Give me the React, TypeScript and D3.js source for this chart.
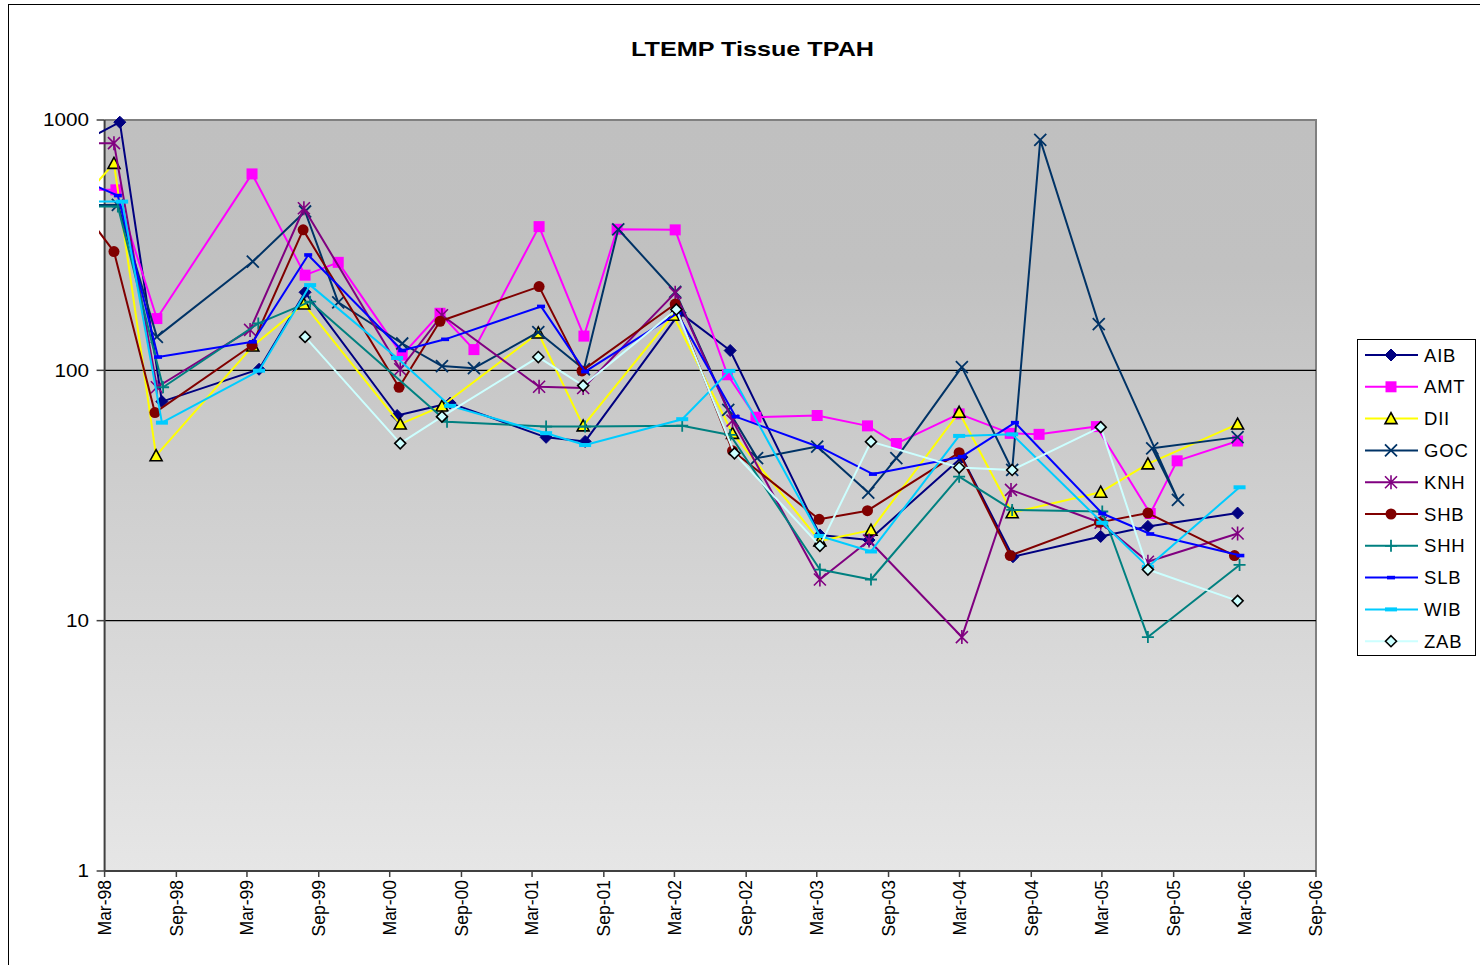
import React from "react";
import * as d3 from "d3";

const titleText = "LTEMP Tissue TPAH";
const seriesNames = ["AIB", "AMT", "DII", "GOC", "KNH", "SHB", "SHH", "SLB", "WIB", "ZAB"];
const seriesColors = ["#000080", "#FF00FF", "#FFFF00", "#003366", "#800080", "#800000", "#008080", "#0000FF", "#00CCFF", "#CCFFFF"];
const seriesMarkers = ["diamond", "square", "triangle", "x", "star", "circle", "plus", "dashSmall", "dashWide", "diamondOpen"];

const yTickValues = [1, 10, 100, 1000];
const yTickLabels = ["1", "10", "100", "1000"];
const xTickDates = [
  "1998-03-01", "1998-09-01", "1999-03-01", "1999-09-01", "2000-03-01", "2000-09-01",
  "2001-03-01", "2001-09-01", "2002-03-01", "2002-09-01", "2003-03-01", "2003-09-01",
  "2004-03-01", "2004-09-01", "2005-03-01", "2005-09-01", "2006-03-01", "2006-09-01",
];
const xTickLabels = [
  "Mar-98", "Sep-98", "Mar-99", "Sep-99", "Mar-00", "Sep-00", "Mar-01", "Sep-01", "Mar-02",
  "Sep-02", "Mar-03", "Sep-03", "Mar-04", "Sep-04", "Mar-05", "Sep-05", "Mar-06", "Sep-06",
];

const aibDates = ["1997-12-15", "1998-04-09", "1998-07-26", "1999-04-01", "1999-07-28", "2000-03-20", "2000-08-03", "2001-04-06", "2001-07-15", "2002-03-15", "2002-07-22", "2003-03-09", "2003-07-13", "2004-03-07", "2004-07-16", "2005-02-26", "2005-06-27", "2006-02-12"];
const aibValues = [790, 980, 75, 101, 205, 66, 74, 54, 52, 170, 120, 22, 21, 45, 18, 21.7, 23.8, 26.9];

const amtDates = ["1997-12-15", "1998-03-30", "1998-07-13", "1999-03-14", "1999-07-28", "1999-10-21", "2000-04-02", "2000-07-08", "2000-10-03", "2001-03-19", "2001-07-12", "2001-10-05", "2002-03-03", "2002-07-15", "2002-09-26", "2003-03-02", "2003-07-09", "2003-09-21", "2004-02-29", "2004-07-09", "2004-09-21", "2005-02-15", "2005-07-03", "2005-09-10", "2006-02-12"];
const amtValues = [526, 526, 161, 609, 240, 270, 115, 169, 121, 375, 137, 366, 364, 96, 65, 66, 60, 51, 67, 56, 55.5, 59.6, 26.8, 43.5, 52.2];

const diiDates = ["1997-12-15", "1998-03-25", "1998-07-11", "1999-03-16", "1999-07-25", "2000-03-28", "2000-07-13", "2001-03-17", "2001-07-10", "2002-02-26", "2002-07-28", "2003-03-09", "2003-07-18", "2004-02-29", "2004-07-14", "2005-02-26", "2005-06-27", "2006-02-12"];
const diiValues = [449, 671, 45.6, 125, 184, 61, 72, 141, 60, 166, 56, 20.8, 23, 68, 27, 32.6, 42.3, 61];

const gocDates = ["1997-12-15", "1998-04-04", "1998-07-13", "1999-03-16", "1999-07-28", "1999-10-21", "2000-04-02", "2000-07-13", "2000-10-03", "2001-03-17", "2001-07-12", "2001-10-08", "2002-03-03", "2002-07-17", "2002-09-29", "2003-03-02", "2003-07-11", "2003-09-21", "2004-03-07", "2004-07-14", "2004-09-24", "2005-02-21", "2005-09-12", "2005-07-08", "2006-02-12"];
const gocValues = [458, 458, 136, 272, 431, 187, 128, 104, 102, 142, 101, 366, 206, 69.5, 44.6, 49.6, 32.5, 44.6, 103, 40, 833, 153, 30.4, 48.8, 54.1];

const knhDates = ["1997-12-15", "1998-03-25", "1998-07-13", "1999-03-09", "1999-07-25", "2000-03-28", "2000-07-13", "2001-03-19", "2001-07-10", "2002-03-03", "2002-07-28", "2003-03-09", "2003-07-13", "2004-03-07", "2004-07-11", "2005-02-26", "2005-06-27", "2006-02-12"];
const knhValues = [808, 808, 85.6, 145, 444, 101, 166, 86, 85, 204, 63, 14.6, 20.9, 8.6, 33.3, 24.6, 17.2, 22.3];

const shbDates = ["1997-12-15", "1998-03-25", "1998-07-08", "1999-03-14", "1999-07-23", "2000-03-25", "2000-07-08", "2001-03-19", "2001-07-07", "2002-03-03", "2002-07-28", "2003-03-07", "2003-07-09", "2004-02-29", "2004-07-09", "2005-02-23", "2005-06-27", "2006-02-04"];
const shbValues = [480, 298, 67.8, 126, 364, 85.6, 157, 216, 99.5, 184, 47.7, 25.4, 27.5, 46.9, 18.2, 24.7, 26.9, 18.2];

const shhDates = ["1997-12-15", "1998-04-04", "1998-07-29", "1999-03-30", "1999-08-10", "2000-07-26", "2001-04-06", "2001-07-15", "2002-03-21", "2002-07-22", "2003-03-09", "2003-07-18", "2004-02-29", "2004-07-14", "2005-03-02", "2005-06-27", "2006-02-17"];
const shhValues = [451, 451, 85.6, 154, 188, 62.3, 59.6, 59.6, 60.1, 55.2, 16, 14.6, 37.6, 27.7, 27.3, 8.6, 16.7];

const slbDates = ["1997-12-15", "1998-04-04", "1998-07-16", "1999-03-16", "1999-08-05", "2000-04-02", "2000-07-21", "2001-03-24", "2001-07-15", "2002-03-08", "2002-08-05", "2003-03-09", "2003-07-23", "2004-03-07", "2004-07-21", "2005-03-02", "2005-07-03", "2006-02-19"];
const slbValues = [593, 499, 113, 130, 289, 120, 133, 180, 98.8, 169, 65.3, 49.3, 38.5, 45.2, 61.8, 26.8, 22.2, 18.2];

const wibDates = ["1997-12-15", "1998-04-15", "1998-07-26", "1999-04-01", "1999-08-10", "2000-03-20", "2000-08-03", "2001-04-06", "2001-07-15", "2002-03-21", "2002-07-20", "2003-03-09", "2003-07-18", "2004-02-29", "2004-07-14", "2005-03-02", "2005-06-27", "2006-02-17"];
const wibValues = [472, 472, 61.8, 99.7, 219, 112, 72.1, 56.1, 50.3, 63.8, 99.5, 21.8, 18.9, 54.7, 55.5, 24.6, 16.4, 34.1];

const zabDates = ["1999-07-28", "2000-03-28", "2000-07-13", "2001-03-17", "2001-07-10", "2002-03-06", "2002-08-02", "2003-03-09", "2003-07-18", "2004-02-29", "2004-07-14", "2005-02-26", "2005-06-27", "2006-02-12"];
const zabValues = [136, 51.1, 65.3, 113, 86.9, 175, 46.6, 19.9, 51.9, 40.9, 40, 59.3, 16, 12];

const allDates = [aibDates, amtDates, diiDates, gocDates, knhDates, shbDates, shhDates, slbDates, wibDates, zabDates];
const allValues = [aibValues, amtValues, diiValues, gocValues, knhValues, shbValues, shhValues, slbValues, wibValues, zabValues];

const parse = d3.timeParse("%Y-%m-%d");
const FONT = "'Liberation Sans', Arial, sans-serif";

function Marker({ type, color, x, y }: { type: string; color: string; x: number; y: number }) {
  const t = `translate(${x},${y})`;
  switch (type) {
    case "diamond":
      return <path transform={t} d="M0,-6L6,0L0,6L-6,0Z" fill={color} stroke={color} strokeWidth={1} />;
    case "diamondOpen":
      return <path transform={t} d="M0,-5.5L5.5,0L0,5.5L-5.5,0Z" fill={color} stroke="#000" strokeWidth={1.6} />;
    case "square":
      return <rect transform={t} x={-5.5} y={-5.5} width={11} height={11} fill={color} />;
    case "triangle":
      return <path transform={t} d="M0,-6L6,5L-6,5Z" fill={color} stroke="#000" strokeWidth={1.6} strokeLinejoin="miter" />;
    case "x":
      return <path transform={t} d="M-6,-6L6,6M-6,6L6,-6" stroke={color} strokeWidth={1.8} fill="none" />;
    case "star":
      return <path transform={t} d="M-6,-6L6,6M-6,6L6,-6M0,-7L0,7" stroke={color} strokeWidth={1.6} fill="none" />;
    case "circle":
      return <circle cx={x} cy={y} r={5.5} fill={color} />;
    case "plus":
      return <path transform={t} d="M-6,0L6,0M0,-6L0,6" stroke={color} strokeWidth={1.8} fill="none" />;
    case "dashSmall":
      return <rect transform={t} x={-4} y={-1.8} width={8} height={3.6} fill={color} />;
    case "dashWide":
      return <rect transform={t} x={-6} y={-2} width={12} height={4} fill={color} />;
    default:
      return null;
  }
}

export default function App() {
  const W = 1480, H = 965;
  const left = 104.6, right = 1316, top = 120, bottom = 871;
  const x = d3.scaleTime().domain([parse("1998-03-01")!, parse("2006-09-01")!]).range([left, right]);
  const y = d3.scaleLog().domain([1, 1000]).range([bottom, top]);
  const xMin = parse("1998-03-01")!;

  const line = d3
    .line<[Date, number]>()
    .x((d) => x(d[0]))
    .y((d) => y(d[1]));

  const series = seriesNames.map((name, i) => ({
    name,
    color: seriesColors[i],
    marker: seriesMarkers[i],
    points: allDates[i].map((d, j) => [parse(d)!, allValues[i][j]] as [Date, number]),
  }));

  const legendX = 1357, legendY = 339, legendW = 118, legendH = 316;

  return (
    <svg width={W} height={H} style={{ position: "absolute", left: 0, top: 0, background: "#fff" }} fontFamily={FONT}>
      <defs>
        <linearGradient id="bg" x1="0" y1="0" x2="0" y2="1">
          <stop offset="0" stopColor="#C0C0C0" />
          <stop offset="0.2" stopColor="#C1C1C1" />
          <stop offset="1" stopColor="#E6E6E6" />
        </linearGradient>
        <clipPath id="plotClip">
          <rect x={99} y={top - 10} width={right - 99 + 6} height={bottom - top + 20} />
        </clipPath>
      </defs>
      <rect x={0} y={0} width={W} height={H} fill="#fff" />
      <rect x={8.5} y={4.5} width={W} height={H + 10} fill="none" stroke="#000" strokeWidth={1} />

      <text transform="translate(752.5,56) scale(1.26,1)" textAnchor="middle" fontSize={20} fontWeight="bold">
        {titleText}
      </text>

      <rect x={left} y={top} width={right - left} height={bottom - top} fill="url(#bg)" />
      <path d={`M${left},${top}H${right}V${bottom}`} fill="none" stroke="#808080" strokeWidth={2} />

      {yTickValues.slice(1, 3).map((v) => (
        <line key={v} x1={left} x2={right} y1={y(v)} y2={y(v)} stroke="#000" strokeWidth={1.3} />
      ))}

      <line x1={left} x2={left} y1={top} y2={bottom} stroke="#404040" strokeWidth={2} />
      <line x1={left} x2={right} y1={bottom} y2={bottom} stroke="#404040" strokeWidth={2} />
      {yTickValues.map((v, i) => (
        <g key={v}>
          <line x1={left - 8} x2={left} y1={y(v)} y2={y(v)} stroke="#404040" strokeWidth={1.5} />
          <text transform={`translate(89,${y(v)}) scale(1.15,1)`} dy="0.35em" textAnchor="end" fontSize={18}>
            {yTickLabels[i]}
          </text>
        </g>
      ))}
      {xTickDates.map((d, i) => {
        const xx = x(parse(d)!);
        return (
          <g key={d}>
            <line x1={xx} x2={xx} y1={bottom} y2={bottom + 6} stroke="#404040" strokeWidth={1.5} />
            <text
              transform={`translate(${xx},${bottom + 9}) rotate(-90)`}
              dy="0.36em"
              textAnchor="end"
              fontSize={17.5}
            >
              {xTickLabels[i]}
            </text>
          </g>
        );
      })}

      <g clipPath="url(#plotClip)">
        {series.map((s) => (
          <g key={s.name}>
            <path d={line(s.points) || ""} fill="none" stroke={s.color} strokeWidth={2} strokeLinejoin="round" />
            {s.points
              .filter((p) => p[0] >= xMin)
              .map((p, j) => (
                <Marker key={j} type={s.marker} color={s.color} x={x(p[0])} y={y(p[1])} />
              ))}
          </g>
        ))}
      </g>

      <rect x={legendX + 0.5} y={legendY + 0.5} width={legendW} height={legendH} fill="#fff" stroke="#000" strokeWidth={1} />
      {series.map((s, i) => {
        const ly = 355 + i * 31.8;
        return (
          <g key={s.name}>
            <line x1={1365} x2={1418} y1={ly} y2={ly} stroke={s.color} strokeWidth={2} />
            <Marker type={s.marker} color={s.color} x={1391} y={ly} />
            <text x={1424} y={ly} dy="0.36em" fontSize={18.5} letterSpacing={0.8}>
              {s.name}
            </text>
          </g>
        );
      })}
    </svg>
  );
}
